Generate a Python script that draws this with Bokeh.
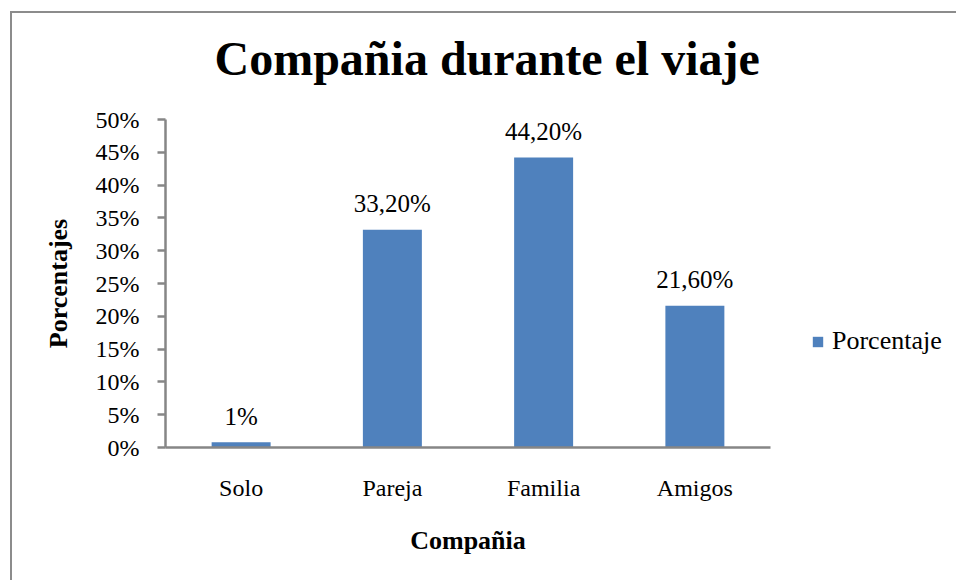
from bokeh.plotting import figure
from bokeh.layouts import row
from bokeh.models import ColumnDataSource, FactorRange, Range1d, FixedTicker, PrintfTickFormatter, LabelSet, Legend, LegendItem, Title
from bokeh.embed import file_html
from bokeh.resources import INLINE

categories = ["Solo", "Pareja", "Familia", "Amigos"]
values = [0.8, 33.2, 44.2, 21.6]
value_labels = ["1%", "33,20%", "44,20%", "21,60%"]
y_ticks = [0, 5, 10, 15, 20, 25, 30, 35, 40, 45, 50]
series_name = "Porcentaje"

FONT = "Liberation Serif"
GRAY = "#868686"
BLUE = "#4F81BD"

src = ColumnDataSource(dict(cat=categories, val=values, lab=value_labels))

p = figure(width=778, height=567, x_range=FactorRange(*categories), y_range=Range1d(0, 50),
           output_backend="svg", toolbar_location=None,
           min_border_left=153, min_border_right=20, min_border_top=106, min_border_bottom=133)
p.outline_line_color = None
p.grid.grid_line_color = None
p.x_range.range_padding = 0

p.title.text = "Compañia durante el viaje"
p.title.text_font = FONT
p.title.text_font_size = "48px"
p.title.text_font_style = "bold"
p.title.text_color = "#000000"
p.title.align = "left"
p.title.offset = 49
p.title.vertical_align = "top"
p.title.standoff = 0
# blank spacer between the title and the plot area
p.add_layout(Title(text=" ", text_font_size="1px", standoff=30), "above")

r = p.vbar(x="cat", top="val", width=0.39, source=src, fill_color=BLUE, line_color=None)

labels = LabelSet(x="cat", y="val", text="lab", source=src, text_align="center", text_baseline="middle",
                  y_offset=26, text_font=FONT, text_font_size="25px", text_color="#000000")
p.add_layout(labels)

p.yaxis.ticker = FixedTicker(ticks=y_ticks)
p.yaxis.formatter = PrintfTickFormatter(format="%d%%")
for ax in (p.xaxis[0], p.yaxis[0]):
    ax.axis_line_color = GRAY
    ax.axis_line_width = 2.5
    ax.major_tick_line_color = GRAY
    ax.major_tick_line_width = 2.5
    ax.minor_tick_line_color = None
    ax.major_label_text_font = FONT
    ax.major_label_text_font_size = "24px"
    ax.major_label_text_color = "#000000"
    ax.axis_label_text_font = FONT
    ax.axis_label_text_font_size = "26px"
    ax.axis_label_text_font_style = "bold"
    ax.axis_label_text_color = "#000000"
p.yaxis.major_tick_in = 0
p.yaxis.major_tick_out = 8
p.yaxis.major_label_standoff = 18
p.yaxis.axis_label = "Porcentajes"
p.yaxis.axis_label_standoff = 20
p.xaxis.major_tick_line_color = None
p.xaxis.major_label_standoff = 21
p.xaxis.axis_label = "Compañia"
p.xaxis.axis_label_standoff = 22

# legend panel to the right of the chart; its proxy bars use factors that are not
# on this panel's range, so only the legend swatch is drawn
p2 = figure(width=166, height=567, x_range=FactorRange(factors=[series_name]), y_range=Range1d(-100, -50),
            output_backend="svg", toolbar_location=None, x_axis_type=None, y_axis_type=None,
            min_border=0)
p2.outline_line_color = None
p2.grid.grid_line_color = None
r2 = p2.vbar(x="cat", top="val", bottom="val", width=0.39, source=src, fill_color=BLUE, line_color=None)
legend = Legend(items=[LegendItem(label=series_name, renderers=[r2])], location=(21, 91),
                label_text_font=FONT, label_text_font_size="26px", label_text_color="#000000",
                glyph_width=13, glyph_height=13, label_standoff=8, padding=0, margin=0,
                border_line_color=None, background_fill_alpha=0)
p2.add_layout(legend)

layout = row(p, p2, styles={"margin-left": "10px", "margin-top": "11px",
                            "border-left": "2px solid #8c8c8c", "border-top": "2px solid #8c8c8c"})

open("out.html", "w").write(file_html(layout, INLINE))
